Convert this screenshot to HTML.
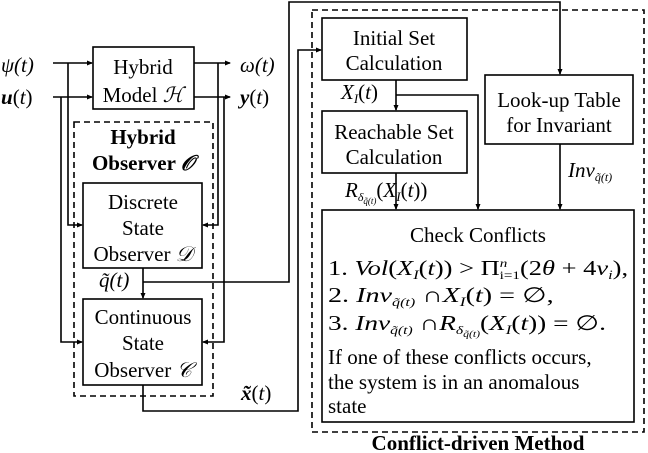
<!DOCTYPE html>
<html><head><meta charset="utf-8"><style>
html,body{margin:0;padding:0;background:#fff}
svg{display:block}
text{font-family:"Liberation Serif",serif;fill:#000}
.i{font-style:italic}
</style></head><body>
<svg width="648" height="453" viewBox="0 0 648 453" xmlns="http://www.w3.org/2000/svg">
<defs><marker id="a" markerWidth="6" markerHeight="6" refX="5" refY="3" orient="auto" markerUnits="userSpaceOnUse"><path d="M0,0.5 L6,3 L0,5.5z" fill="#000"/></marker></defs>
<g fill="none" stroke="#000" stroke-width="1.6">
<rect x="93" y="47" width="101" height="62"/>
<rect x="83" y="183" width="119" height="85"/>
<rect x="83" y="299" width="119" height="86"/>
<rect x="322" y="18" width="145" height="62"/>
<rect x="322" y="111" width="145" height="62"/>
<rect x="485" y="75" width="148" height="69"/>
<rect x="322" y="210" width="312" height="212"/>
<g stroke-dasharray="6,4">
<rect x="74" y="122" width="139" height="274"/>
<rect x="312" y="10" width="332" height="422"/>
</g>
<path d="M53,63 H92" marker-end="url(#a)"/>
<path d="M53,97 H92" marker-end="url(#a)"/>
<path d="M68,63 V225 H82" marker-end="url(#a)"/>
<path d="M61,97 V342 H82" marker-end="url(#a)"/>
<path d="M194,63 H230" marker-end="url(#a)"/>
<path d="M194,97 H230" marker-end="url(#a)"/>
<path d="M218,63 V225 H203" marker-end="url(#a)"/>
<path d="M224,97 V342 H203" marker-end="url(#a)"/>
<path d="M143,268 V298" marker-end="url(#a)"/>
<path d="M143,282 H289 V2 H560 V74" marker-end="url(#a)"/>
<path d="M143,385 V411 H298 V50 H321" marker-end="url(#a)"/>
<path d="M396,80 V110" marker-end="url(#a)"/>
<path d="M396,95 H478 V209" marker-end="url(#a)"/>
<path d="M396,173 V209" marker-end="url(#a)"/>
<path d="M560,144 V209" marker-end="url(#a)"/>
</g>
<g font-size="21">
<text x="1" y="72" class="i">ψ(t)</text>
<text x="1" y="104" font-weight="bold" class="i">u<tspan font-weight="normal" font-style="normal">(</tspan><tspan font-weight="normal">t</tspan><tspan font-weight="normal" font-style="normal">)</tspan></text>
<text x="240" y="72" class="i">ω(t)</text>
<text x="240" y="104" font-weight="bold" class="i">y<tspan font-weight="normal" font-style="normal">(</tspan><tspan font-weight="normal">t</tspan><tspan font-weight="normal" font-style="normal">)</tspan></text>
<text x="143" y="74" text-anchor="middle">Hybrid</text>
<text x="143" y="102" text-anchor="middle">Model <tspan class="i">ℋ</tspan></text>
<text x="143" y="144" text-anchor="middle" font-weight="bold">Hybrid</text>
<text x="143" y="170" text-anchor="middle" font-weight="bold">Observer <tspan class="i">𝒪</tspan></text>
<text x="143" y="209" text-anchor="middle">Discrete</text>
<text x="143" y="235" text-anchor="middle">State</text>
<text x="143" y="261" text-anchor="middle">Observer <tspan class="i">𝒟</tspan></text>
<text x="99" y="287" class="i">q̃(t)</text>
<text x="143" y="324" text-anchor="middle">Continuous</text>
<text x="143" y="350" text-anchor="middle">State</text>
<text x="143" y="377" text-anchor="middle">Observer <tspan class="i">𝒞</tspan></text>
<text x="241" y="400" class="i" font-weight="bold">x̃<tspan font-weight="normal" font-style="normal">(</tspan><tspan font-weight="normal">t</tspan><tspan font-weight="normal" font-style="normal">)</tspan></text>
<text x="394" y="45" text-anchor="middle">Initial Set</text>
<text x="394" y="70" text-anchor="middle">Calculation</text>
<text x="341" y="99" class="i">X<tspan font-size="13" dy="4">I</tspan><tspan dy="-4" font-style="normal">(</tspan>t<tspan font-style="normal">)</tspan></text>
<text x="394" y="139" text-anchor="middle">Reachable Set</text>
<text x="394" y="164" text-anchor="middle">Calculation</text>
<text x="345" y="197" class="i">R<tspan font-size="12" dy="4">δ</tspan><tspan font-size="9" dy="3">q̃(t)</tspan><tspan dy="-7" font-style="normal">(</tspan>X<tspan font-size="13" dy="4">I</tspan><tspan dy="-4" font-style="normal">(</tspan>t<tspan font-style="normal">))</tspan></text>
<text x="559" y="107" text-anchor="middle">Look-up Table</text>
<text x="559" y="132" text-anchor="middle">for Invariant</text>
<text x="568" y="177" class="i">Inv<tspan font-size="12" dy="4">q̃(t)</tspan></text>
<text x="478" y="242" text-anchor="middle">Check Conflicts</text>
<g transform="translate(328,275) scale(1.26,1)"><text x="0" y="0">1. <tspan class="i">Vol</tspan>(<tspan class="i">X</tspan><tspan font-size="13" dy="4" class="i">I</tspan><tspan dy="-4">(</tspan><tspan class="i">t</tspan>)) &gt; Π<tspan font-size="12" dy="-8" class="i">n</tspan><tspan font-size="12" dy="12" dx="-6">i=1</tspan><tspan dy="-4">(2</tspan><tspan class="i">θ</tspan> + 4<tspan class="i">v</tspan><tspan font-size="13" dy="4" class="i">i</tspan><tspan dy="-4">),</tspan></text></g>
<g transform="translate(328,302) scale(1.34,1)"><text x="0" y="0">2. <tspan class="i">Inv</tspan><tspan font-size="12" dy="4" class="i">q̃(t)</tspan><tspan dy="-4"> ∩</tspan><tspan class="i">X</tspan><tspan font-size="13" dy="4" class="i">I</tspan><tspan dy="-4">(</tspan><tspan class="i">t</tspan>) = ∅,</text></g>
<g transform="translate(328,330) scale(1.3,1)"><text x="0" y="0">3. <tspan class="i">Inv</tspan><tspan font-size="12" dy="4" class="i">q̃(t)</tspan><tspan dy="-4"> ∩</tspan><tspan class="i">R</tspan><tspan font-size="12" dy="4" class="i">δ</tspan><tspan font-size="9" dy="3" class="i">q̃(t)</tspan><tspan dy="-7">(</tspan><tspan class="i">X</tspan><tspan font-size="13" dy="4" class="i">I</tspan><tspan dy="-4">(</tspan><tspan class="i">t</tspan>)) = ∅.</text></g>
<text x="328" y="364">If one of these conflicts occurs,</text>
<text x="328" y="389">the system is in an anomalous</text>
<text x="328" y="413">state</text>
<text x="478" y="450" text-anchor="middle" font-weight="bold">Conflict-driven Method</text>
</g>
</svg>
</body></html>
